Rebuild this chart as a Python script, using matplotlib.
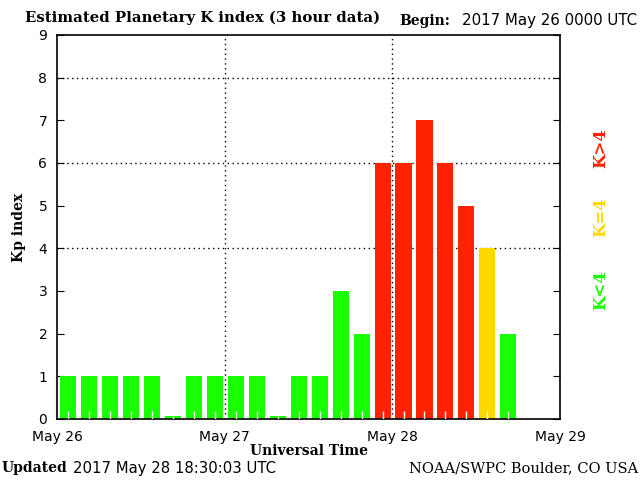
import matplotlib
matplotlib.use("Agg")
import matplotlib.pyplot as plt
import numpy as np

# 3-hour Kp values starting 2017 May 26 00 UTC
kp = [1, 1, 1, 1, 1, 0, 1, 1,
      1, 1, 0, 1, 1, 3, 2, 6,
      6, 7, 6, 5, 4, 2]
day_labels = ["May 26", "May 27", "May 28", "May 29"]
day_hours = [0, 24, 48, 72]
yticks = list(range(10))

green = "#1aff00"
yellow = "#ffd800"
red = "#ff2200"

serif = "DejaVu Serif"
sans = "DejaVu Sans"

fig = plt.figure(figsize=(6.4, 4.8), dpi=100)
ax = fig.add_axes([57/640, 61/480, 503/640, 384/480])

hours = np.arange(len(kp)) * 3 + 1.6
colors = [green if v < 4 else (yellow if v == 4 else red) for v in kp]
heights = [v if v > 0 else 0.07 for v in kp]  # zero shown as a thin sliver

# dotted grid behind the bars
for y in [4, 6, 8]:
    ax.axhline(y, color="black", lw=1, ls=(0, (1, 2.5)), zorder=1)
for x in [24, 48]:
    ax.axvline(x, color="black", lw=1, ls=(0, (1, 2.5)), zorder=1)

ax.bar(hours, heights, width=2.3, color=colors, zorder=2)
# little white ticks at the foot of each bar
ax.vlines(hours, 0, [min(h, 0.19) for h in heights], color="white", lw=1, zorder=3)

ax.set_xlim(0, 72)
ax.set_ylim(0, 9)
ax.set_yticks(yticks)
ax.set_yticklabels([str(t) for t in yticks], fontfamily=sans, fontsize=10)
ax.set_xticks(day_hours)
ax.set_xticklabels(day_labels, fontfamily=sans, fontsize=10)
ax.tick_params(axis="y", direction="in", left=True, right=True, length=5, pad=7)
ax.tick_params(axis="x", length=0, pad=8)
for s in ax.spines.values():
    s.set_linewidth(1.2)

ax.set_ylabel("Kp index", fontfamily=serif, fontweight="bold", fontsize=10, labelpad=9)
ax.set_xlabel("Universal Time", fontfamily=serif, fontweight="bold", fontsize=10, labelpad=0)

fig.text(25/640, 1 - 18/480, "Estimated Planetary K index (3 hour data)",
         fontfamily=serif, fontweight="bold", fontsize=10.7, va="center")
fig.text(399/640, 1 - 21/480, "Begin:", fontfamily=serif, fontweight="bold",
         fontsize=10, va="center")
fig.text(462/640, 1 - 21/480, "2017 May 26 0000 UTC", fontfamily=sans,
         fontsize=10.8, va="center")
fig.text(2/640, 1 - 468/480, "Updated", fontfamily=serif, fontweight="bold",
         fontsize=10, va="center")
fig.text(73/640, 1 - 468/480, "2017 May 28 18:30:03 UTC", fontfamily=sans,
         fontsize=10.7, va="center")
fig.text(638/640, 1 - 468/480, "NOAA/SWPC Boulder, CO USA", fontfamily=serif,
         fontsize=10.5, va="center", ha="right")

fig.text(601/640, 1 - 290/480, "K<4", color=green, rotation=90, fontfamily=serif,
         fontweight="bold", fontsize=12, ha="center", va="center")
fig.text(601/640, 1 - 217/480, "K=4", color=yellow, rotation=90, fontfamily=serif,
         fontweight="bold", fontsize=12, ha="center", va="center")
fig.text(601/640, 1 - 148/480, "K>4", color=red, rotation=90, fontfamily=serif,
         fontweight="bold", fontsize=12, ha="center", va="center")

fig.savefig("out.png", dpi=100)
